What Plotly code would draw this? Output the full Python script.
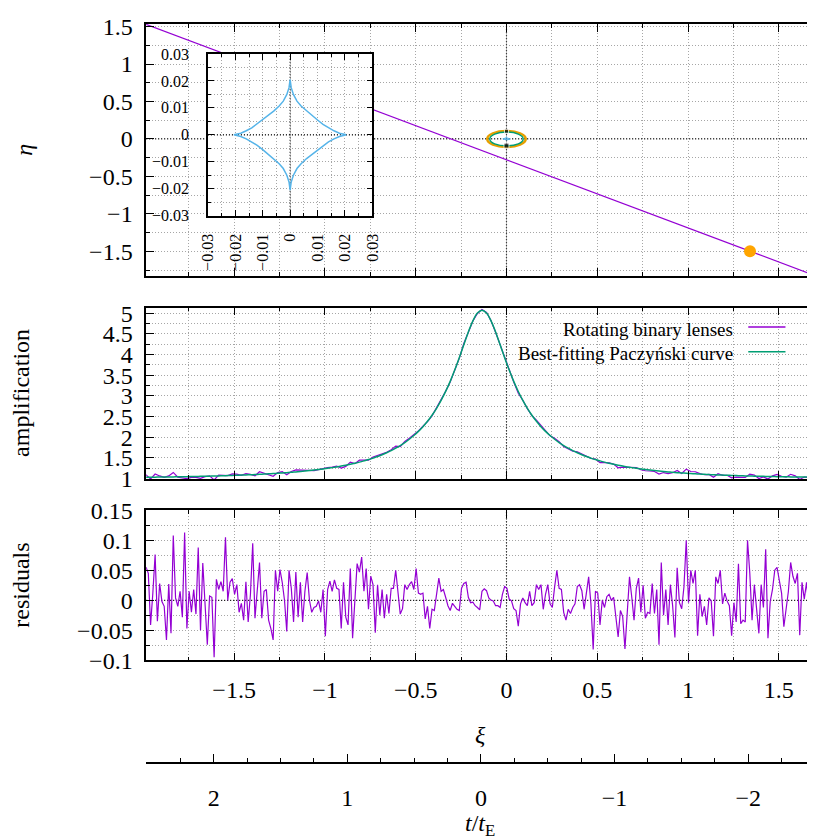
import numpy as np
import plotly.graph_objects as go

# lens plane: source trajectory, source position, lenses and their orbits
path_xi = [-2.0, 1.7]
path_eta = [1.543, -1.824]
source_xi = [1.341]
source_eta = [-1.497]
lens_xi = [0.0, 0.0]
lens_eta = [0.104, -0.089]
orbit_radius = [0.106, 0.092]

# central caustic
caustic_x = [0.0205, 0.018, 0.016, 0.014, 0.012, 0.010, 0.008, 0.006, 0.004, 0.0025, 0.0012, 0.0004, 0.0,
             -0.0004, -0.0012, -0.0025, -0.004, -0.006, -0.008, -0.010, -0.012, -0.014, -0.016, -0.018, -0.0205,
             -0.018, -0.016, -0.014, -0.012, -0.010, -0.008, -0.006, -0.004, -0.0025, -0.0012, -0.0004, 0.0,
             0.0004, 0.0012, 0.0025, 0.004, 0.006, 0.008, 0.010, 0.012, 0.014, 0.016, 0.018, 0.0205]
caustic_y = [0.0, 0.0006, 0.0015, 0.0026, 0.0039, 0.0055, 0.0072, 0.0088, 0.0107, 0.0125, 0.015, 0.0175, 0.0205,
             0.0175, 0.015, 0.0125, 0.0107, 0.0088, 0.0072, 0.0055, 0.0039, 0.0026, 0.0015, 0.0006, 0.0,
             -0.0006, -0.0015, -0.0026, -0.0039, -0.0055, -0.0072, -0.0088, -0.0107, -0.0125, -0.015, -0.0175, -0.0205,
             -0.0175, -0.015, -0.0125, -0.0107, -0.0088, -0.0072, -0.0055, -0.0039, -0.0026, -0.0015, -0.0006, 0.0]

# light curve, sampled every 0.025 in xi starting at xi_start
xi_start = -2.01
xi_step = 0.025
paczynski = [
    1.030, 1.031, 1.032, 1.034, 1.035, 1.037, 1.038, 1.040, 1.042, 1.044,
    1.046, 1.048, 1.051, 1.053, 1.056, 1.058, 1.061, 1.064, 1.068, 1.071,
    1.075, 1.079, 1.083, 1.087, 1.092, 1.097, 1.102, 1.108, 1.114, 1.121,
    1.128, 1.135, 1.143, 1.151, 1.161, 1.170, 1.181, 1.192, 1.205, 1.218,
    1.232, 1.247, 1.264, 1.282, 1.301, 1.322, 1.345, 1.370, 1.397, 1.427,
    1.459, 1.495, 1.533, 1.576, 1.624, 1.676, 1.734, 1.798, 1.870, 1.951,
    2.041, 2.142, 2.256, 2.386, 2.533, 2.700, 2.891, 3.108, 3.352, 3.626,
    3.925, 4.239, 4.548, 4.818, 5.007,
    5.075, 5.007, 4.818, 4.548, 4.239, 3.925, 3.626, 3.352, 3.108, 2.891,
    2.700, 2.533, 2.386, 2.256, 2.142, 2.041, 1.951, 1.870, 1.798, 1.734,
    1.676, 1.624, 1.576, 1.533, 1.495, 1.459, 1.427, 1.397, 1.370, 1.345,
    1.322, 1.301, 1.282, 1.264, 1.247, 1.232, 1.218, 1.205, 1.192, 1.181,
    1.170, 1.161, 1.151, 1.143, 1.135, 1.128, 1.121, 1.114, 1.108, 1.102,
    1.097, 1.092, 1.087, 1.083, 1.079, 1.075, 1.071, 1.068, 1.064, 1.061,
    1.058, 1.056, 1.053, 1.051, 1.048, 1.046, 1.044, 1.042, 1.040, 1.038,
    1.037, 1.035, 1.034]

# residuals (binary - Paczynski), sampled every half step
residuals = [
    0.03, 0.045, 0.055, 0.045, -0.041, 0.012, 0.076, -0.035, 0.028, -0.002,
    -0.01, -0.066, 0.027, -0.055, 0.108, 0.004, -0.01, 0.015, -0.028, 0.113,
    -0.047, 0.015, -0.02, 0.018, -0.023, 0.088, -0.05, 0.062, -0.01, -0.074,
    0.007, 0.005, -0.095, 0.035, 0.018, 0.031, 0.015, 0.105, 0.0, 0.03,
    0.036, 0.01, 0.026, -0.02, -0.005, -0.033, 0.031, -0.036, 0.01, 0.095,
    -0.03, 0.015, 0.063, -0.03, 0.015, 0.018, -0.033, -0.047, -0.066, 0.05,
    0.015, 0.051, 0.03, 0.0, -0.052, 0.05, 0.02, -0.036, 0.047, -0.028,
    0.03, -0.036, 0.015, 0.046, 0.0, -0.02, -0.012, -0.01, -0.001, -0.02,
    0.018, -0.06, 0.018, 0.032, 0.015, 0.034, 0.02, 0.018, -0.047, 0.03,
    -0.028, -0.041, 0.053, -0.063, -0.009, 0.061, 0.047, 0.072, 0.015, 0.053,
    -0.015, 0.04, 0.026, -0.054, 0.026, -0.025, 0.018, -0.03, 0.01, -0.022,
    0.02, 0.02, 0.05, 0.015, -0.023, -0.014, 0.026, 0.018, 0.026, 0.031,
    0.018, 0.053, 0.012, 0.01, 0.012, -0.031, -0.01, -0.047, -0.015, -0.017,
    0.01, 0.037, 0.015, 0.018, 0.005, -0.009, -0.017, -0.005, -0.01, -0.015,
    -0.017, 0.02, 0.028, 0.03, 0.005, -0.004, -0.003, -0.009, -0.012, -0.016,
    0.015, 0.019, 0.016, 0.004, 0.0, -0.001, -0.009, -0.009, -0.012, 0.01,
    0.023, 0.02, 0.002, -0.001, -0.014, -0.017, -0.043, -0.006, 0.004, -0.004,
    -0.009, 0.015, -0.009, -0.004, 0.026, 0.018, 0.026, -0.015, 0.01, 0.026,
    -0.006, -0.012, 0.022, 0.05, 0.02, 0.018, -0.02, -0.033, -0.015, -0.022,
    -0.012, -0.006, 0.023, 0.026, 0.016, -0.015, 0.012, 0.039, -0.006, -0.082,
    0.015, 0.012, -0.041, 0.0, -0.012, 0.006, 0.01, 0.0, 0.005, -0.025,
    -0.061, -0.017, -0.027, -0.081, -0.012, 0.039, 0.005, -0.033, 0.02, 0.037,
    -0.02, 0.025, -0.03, -0.02, -0.022, 0.028, -0.022, 0.018, -0.074, 0.063,
    -0.025, 0.018, -0.041, 0.026, -0.009, -0.062, 0.054, -0.004, -0.014, 0.023,
    0.1, -0.004, 0.05, 0.028, 0.05, -0.059, 0.01, -0.027, -0.01, -0.041,
    0.004, -0.001, -0.06, 0.039, 0.028, 0.05, -0.006, 0.012, -0.001, -0.009,
    -0.059, -0.004, -0.036, 0.061, -0.039, -0.033, -0.036, 0.1, 0.045, -0.033,
    0.026, -0.022, -0.055, 0.026, -0.012, 0.085, -0.063, -0.002, 0.018, 0.05,
    0.055, 0.033, 0.012, -0.044, -0.01, 0.015, 0.063, 0.04, 0.028, 0.045,
    -0.058, 0.03, 0.002, 0.03, -0.01]

legend_names = ["Rotating binary lenses", "Best-fitting Paczyński curve"]

xi = xi_start + xi_step * np.arange(len(paczynski))
xi_res = xi_start + 0.5 * xi_step * np.arange(len(residuals))
binary = np.array(paczynski) + np.array(residuals[::2])

violet = "#9400d3"
teal = "#009e73"
orange = "#e69f00"
sky = "#56b4e9"
gridc = "#a6a6a6"
dots = "1px,2px"

# the page body has an 8px margin, so the figure is drawn 8px smaller and
# every position below is given in window pixels and shifted back
OFF = 8
W, H = 815 - OFF, 839 - OFF


def px(x):
    return (x - OFF) / W


def py(y):
    return 1 - (y - OFF) / H


xdom = [px(140), 1.0]
xi_range = [-1.984, 1.655]
eta_range = [-1.825, 1.535]
amp_range = [0.984, 5.134]
res_range = [-0.1, 0.15]
inset_range = [-0.03, 0.03]

fig = go.Figure()

# top panel
fig.add_trace(go.Scatter(x=path_xi, y=path_eta, mode="lines",
                         line=dict(color=violet, width=1.2), xaxis="x", yaxis="y"))
fig.add_trace(go.Scatter(x=caustic_x, y=caustic_y, mode="lines",
                         line=dict(color=sky, width=1.2), xaxis="x", yaxis="y"))
fig.add_trace(go.Scatter(x=lens_xi, y=lens_eta, mode="markers",
                         marker=dict(color="black", size=[4, 5], symbol="square"),
                         xaxis="x", yaxis="y"))
fig.add_trace(go.Scatter(x=source_xi, y=source_eta, mode="markers",
                         marker=dict(color="#ffa500", size=12), xaxis="x", yaxis="y"))

# middle panel
fig.add_trace(go.Scatter(x=xi, y=binary, mode="lines", name=legend_names[0],
                         line=dict(color=violet, width=1.2), xaxis="x2", yaxis="y2"))
fig.add_trace(go.Scatter(x=xi, y=paczynski, mode="lines", name=legend_names[1],
                         line=dict(color=teal, width=1.5, shape="spline"), xaxis="x2", yaxis="y2"))

# bottom panel
fig.add_trace(go.Scatter(x=xi_res, y=residuals, mode="lines",
                         line=dict(color=violet, width=1.2), xaxis="x3", yaxis="y3"))

# inset with the caustic
fig.add_trace(go.Scatter(x=caustic_x, y=caustic_y, mode="lines",
                         line=dict(color=sky, width=1.5), xaxis="x5", yaxis="y5"))

# t/tE axis needs a trace to show
fig.add_trace(go.Scatter(x=[], y=[], xaxis="x4", yaxis="y3"))


def main_axis(dom, rng, dtick, mdtick, anchor, labels=True, mirror=False, standoff=10):
    return dict(domain=dom, range=rng, anchor=anchor, dtick=dtick, tick0=0,
                ticks="inside", ticklen=8, tickwidth=1, tickcolor="black",
                showline=True, linecolor="black", linewidth=1.5, mirror=mirror,
                showgrid=True, gridcolor=gridc, griddash=dots, gridwidth=1,
                zeroline=False, showticklabels=labels, tickfont=dict(size=24),
                ticklabelstandoff=standoff,
                minor=dict(dtick=mdtick, ticks="inside", ticklen=4, tickcolor="black",
                           showgrid=True, gridcolor=gridc, griddash=dots))


def inset_axis(dom, anchor, **kw):
    d = dict(domain=dom, range=inset_range, anchor=anchor,
             dtick=0.01, tick0=0, ticks="inside", ticklen=6, tickcolor="black",
             showline=True, linecolor="black", linewidth=1.5, mirror="ticks",
             showgrid=True, gridcolor=gridc, griddash=dots, zeroline=False,
             tickfont=dict(size=16),
             minor=dict(dtick=0.005, ticks="inside", ticklen=3, tickcolor="black",
                        showgrid=True, gridcolor=gridc, griddash=dots))
    d.update(kw)
    return d


top_dom = [py(271), py(11)]
mid_dom = [py(481), py(304)]
bot_dom = [py(668), py(513)]

layout = dict(
    width=W, height=H, margin=dict(l=0, r=0, t=0, b=0),
    paper_bgcolor="white", plot_bgcolor="white", showlegend=False,
    font=dict(family="Liberation Serif", color="black", size=20),
    xaxis=main_axis(xdom, xi_range, 0.5, 0.25, "y", labels=False, mirror="ticks"),
    yaxis=main_axis(top_dom, eta_range, 0.5, 0.25, "x", standoff=7),
    xaxis2=main_axis(xdom, xi_range, 0.5, 0.25, "y2", labels=False, mirror="ticks"),
    yaxis2=main_axis(mid_dom, amp_range, 0.5, 0.25, "x2", standoff=7),
    xaxis3=main_axis(xdom, xi_range, 0.5, 0.25, "y3", mirror="ticks", standoff=7),
    yaxis3=main_axis(bot_dom, res_range, 0.05, 0.025, "x3", standoff=7),
    xaxis4=dict(overlaying="x3", anchor="free", position=py(774), side="bottom",
                range=[2.505, -2.44], dtick=1, tick0=0, ticks="inside", ticklen=8,
                tickcolor="black", showline=True, linecolor="black", linewidth=1.5,
                showgrid=False, zeroline=False, tickfont=dict(size=24),
                ticklabelstandoff=13,
                minor=dict(dtick=0.25, ticks="inside", ticklen=4, tickcolor="black",
                           showgrid=False)),
    xaxis5=inset_axis([px(203), px(371)], "y5", tickangle=-90, ticklabelstandoff=10),
    yaxis5=inset_axis([py(209), py(42)], "x5", ticklabelstandoff=14),
)
fig.update_layout(**layout)

# black dotted zero axes
zl = dict(color="black", width=1.2, dash="1px,2px")
for xa, ya, yr in [("x", "y", eta_range), ("x2", "y2", amp_range),
                   ("x3", "y3", res_range), ("x5", "y5", inset_range)]:
    fig.add_shape(type="line", xref=xa, yref=ya, x0=0, x1=0, y0=yr[0], y1=yr[1],
                  line=zl, layer="between")
for xa, ya, xr in [("x", "y", xi_range), ("x3", "y3", xi_range), ("x5", "y5", inset_range)]:
    fig.add_shape(type="line", xref=xa, yref=ya, x0=xr[0], x1=xr[1], y0=0, y1=0,
                  line=zl, layer="between")

# lens orbits
for r, c, w in zip(orbit_radius, [orange, teal], [2.5, 1.5]):
    fig.add_shape(type="circle", xref="x", yref="y", x0=-r, x1=r, y0=-r, y1=r,
                  line=dict(color=c, width=w), layer="between")

# legend, text on the left and sample on the right
for k, (name, c) in enumerate(zip(legend_names, [violet, teal])):
    yk = 326 + 25.5 * k
    fig.add_annotation(xref="paper", yref="paper", x=px(741), y=py(yk), text=name,
                       showarrow=False, xanchor="right", yanchor="middle",
                       font=dict(size=19))
    fig.add_shape(type="line", xref="paper", yref="paper", x0=px(755), x1=px(793),
                  y0=py(yk - 2), y1=py(yk - 2), line=dict(color=c, width=1.5))

# axis titles: (text, x, y, angle, yanchor)
titles = [
    ("<i>η</i>", 15, 141, -90, "middle"),
    ("amplification", 12, 392, -90, "middle"),
    ("residuals", 12, 590, -90, "middle"),
    ("<i>ξ</i>", 481, 745, 0, "middle"),
    ("<i>t</i>/<i>t</i><sub>E</sub>", 481, 820, 0, "top"),
]
for text, x, y, ang, ya in titles:
    fig.add_annotation(xref="paper", yref="paper", x=px(x), y=py(y), text=text,
                       showarrow=False, xanchor="center", yanchor=ya,
                       textangle=ang, font=dict(size=24))

fig.write_html("out.html")
